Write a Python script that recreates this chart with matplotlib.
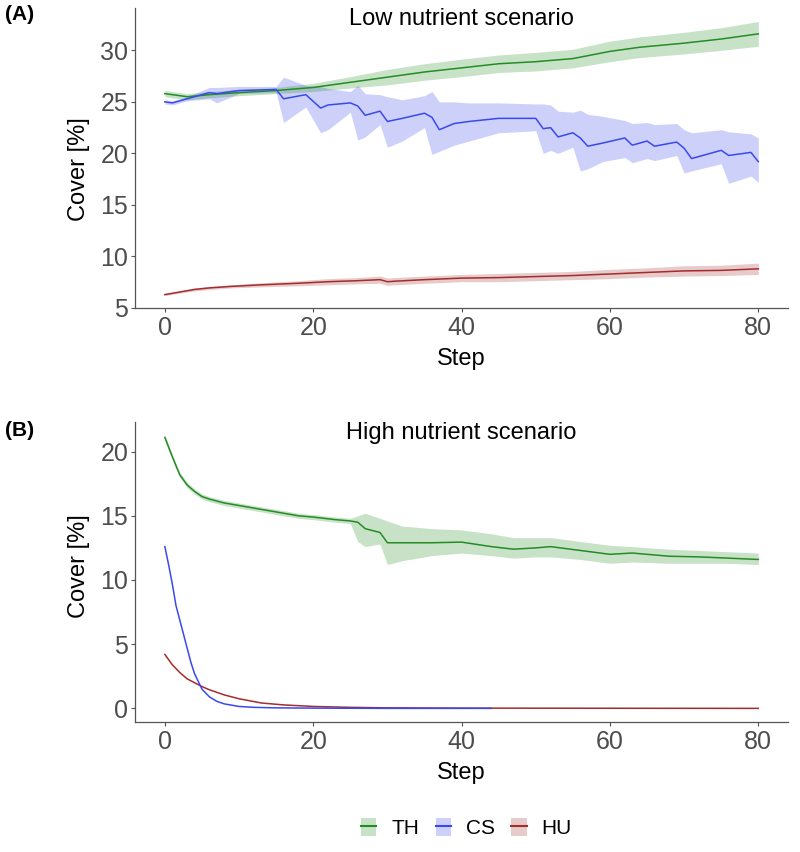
import matplotlib.pyplot as plt
from matplotlib.patches import Patch
from matplotlib.lines import Line2D

plt.rcParams['font.family'] = ['Liberation Sans', 'DejaVu Sans']

# ---- panel A: low nutrient scenario ----
th_a_step = [0, 3, 6, 10, 15, 20, 25, 30, 35, 40, 45, 50, 55, 60, 64, 70, 75, 80]
th_a_mean = [25.8, 25.5, 25.7, 25.9, 26.1, 26.4, 26.9, 27.4, 27.9, 28.3, 28.7, 28.9, 29.2, 29.9, 30.3, 30.7, 31.1, 31.6]
th_a_sd = [0.3, 0.3, 0.3, 0.3, 0.3, 0.4, 0.55, 0.75, 0.8, 0.85, 0.85, 0.9, 0.9, 1.0, 1.0, 1.05, 1.1, 1.2]

cs_a_step = [0, 1, 3, 6, 7, 10, 15, 16, 19, 21, 22, 25, 26, 27, 29, 30, 32, 35, 36, 37,
             39, 41, 45, 50, 51, 52, 53, 55, 56, 57, 59, 62, 63, 65, 66, 69, 70, 71, 75, 76, 79, 80]
cs_a_mean = [25.0, 24.9, 25.3, 25.9, 25.8, 26.1, 26.2, 25.3, 25.7, 24.4, 24.7, 24.9, 24.6, 23.7, 24.1, 23.1, 23.4, 23.9, 23.5, 22.3,
             22.9, 23.1, 23.4, 23.4, 22.4, 22.5, 21.6, 22.0, 21.5, 20.7, 21.0, 21.5, 20.8, 21.2, 20.7, 21.1, 20.5, 19.5, 20.3, 19.8, 20.1, 19.2]
cs_a_lo = [24.8, 24.7, 25.1, 25.3, 24.9, 25.8, 25.9, 23.0, 24.5, 22.0, 22.3, 24.0, 21.3, 21.6, 22.8, 20.6, 21.2, 22.5, 19.9, 20.2,
           20.8, 21.2, 22.0, 22.2, 20.0, 20.3, 20.0, 20.6, 18.3, 18.5, 19.2, 19.6, 19.1, 19.5, 19.3, 19.8, 18.1, 18.3, 19.0, 17.1, 17.8, 17.2]
cs_a_hi = [25.2, 25.1, 25.5, 26.4, 26.4, 26.5, 26.5, 27.4, 26.6, 26.5, 26.3, 26.0, 26.6, 25.8, 25.7, 25.5, 25.2, 25.6, 26.0, 25.0,
           25.0, 24.9, 24.9, 24.8, 24.8, 24.7, 24.1, 24.0, 24.2, 23.8, 23.6, 23.2, 22.9, 23.0, 22.8, 22.9, 22.3, 22.0, 22.3, 22.1, 21.9, 21.5]

hu_a_step = [0, 2, 4, 6, 9, 13, 18, 22, 26, 29, 30, 31, 35, 40, 45, 50, 55, 60, 65, 70, 75, 80]
hu_a_mean = [6.3, 6.55, 6.8, 6.95, 7.1, 7.25, 7.4, 7.55, 7.65, 7.75, 7.55, 7.6, 7.75, 7.9, 7.95, 8.05, 8.15, 8.3, 8.45, 8.6, 8.65, 8.8]
hu_a_sd = [0.1, 0.1, 0.15, 0.15, 0.15, 0.2, 0.25, 0.3, 0.3, 0.35, 0.35, 0.35, 0.35, 0.35, 0.4, 0.4, 0.4, 0.45, 0.45, 0.5, 0.5, 0.55]

# ---- panel B: high nutrient scenario ----
th_b_step = [0, 1, 2, 3, 4, 5, 6, 8, 10, 12, 14, 16, 18, 20, 23, 25, 26, 27, 29, 30,
             32, 36, 40, 44, 47, 50, 52, 56, 60, 63, 68, 72, 76, 80]
th_b_mean = [21.1, 19.6, 18.2, 17.4, 16.9, 16.5, 16.3, 16.0, 15.8, 15.6, 15.4, 15.2, 15.0, 14.9, 14.7, 14.6, 14.5, 14.0, 13.7, 12.9,
             12.9, 12.9, 12.95, 12.6, 12.4, 12.5, 12.6, 12.3, 12.0, 12.1, 11.85, 11.8, 11.7, 11.6]
th_b_lo = [20.9, 19.4, 18.0, 17.2, 16.7, 16.3, 16.1, 15.8, 15.6, 15.4, 15.2, 15.0, 14.8, 14.7, 14.5, 14.4, 13.0, 12.6, 12.8, 11.2,
           11.5, 11.9, 12.1, 11.9, 11.7, 11.8, 11.8, 11.6, 11.3, 11.4, 11.3, 11.3, 11.3, 11.2]
th_b_hi = [21.3, 19.8, 18.4, 17.6, 17.1, 16.7, 16.5, 16.2, 16.0, 15.8, 15.6, 15.4, 15.2, 15.1, 14.9, 14.8, 15.0, 15.2, 14.8, 14.6,
           14.2, 14.0, 13.9, 13.6, 13.3, 13.3, 13.3, 13.0, 12.7, 12.6, 12.4, 12.3, 12.2, 12.1]

cs_b_step = [0, 0.5, 1, 1.5, 2, 2.5, 3, 3.5, 4, 5, 6, 7, 8, 10, 12, 15, 20, 30, 44]
cs_b_mean = [12.6, 11.2, 9.7, 8.0, 6.9, 5.8, 4.7, 3.6, 2.7, 1.5, 0.9, 0.55, 0.35, 0.15, 0.08, 0.04, 0.02, 0.0, 0.0]

hu_b_step = [0, 1, 2, 3, 4, 5, 6, 8, 10, 13, 16, 20, 25, 30, 40, 80]
hu_b_mean = [4.2, 3.4, 2.8, 2.3, 2.0, 1.7, 1.45, 1.05, 0.75, 0.42, 0.27, 0.15, 0.08, 0.04, 0.02, 0.0]

groups = ['TH', 'CS', 'HU']
colors = {'TH': '#248c24', 'CS': '#3a48ee', 'HU': '#a32c2c'}
axis_grey = '#555555'


def style(ax, ylim, yticks, title, ylab_y):
    ax.set_xlim(-4, 84)
    ax.set_ylim(*ylim)
    ax.set_xticks([0, 20, 40, 60, 80])
    ax.set_yticks(yticks)
    for s in ['top', 'right']:
        ax.spines[s].set_visible(False)
    for s in ['left', 'bottom']:
        ax.spines[s].set_color(axis_grey)
        ax.spines[s].set_linewidth(0.9)
    ax.tick_params(colors=axis_grey, labelcolor='#4d4d4d', labelsize=18, length=3, width=0.8, pad=2)
    ax.tick_params(axis='x', pad=3)
    ax.set_xlabel('Step', fontsize=17)
    ax.set_ylabel('Cover [%]', fontsize=17)
    ax.xaxis.set_label_coords(0.5, -0.135)
    ax.yaxis.set_label_coords(-0.069, ylab_y)
    ax.text(0.5, 0.965, title, transform=ax.transAxes, ha='center', va='center', fontsize=17)


fig = plt.figure(figsize=(8, 8.52), dpi=100)
ax_a = fig.add_axes([0.169, 0.6385, 0.816, 0.352])
ax_b = fig.add_axes([0.169, 0.1526, 0.816, 0.352])

# panel A
ax_a.fill_between(cs_a_step, cs_a_lo, cs_a_hi, color=colors['CS'], alpha=0.25, lw=0)
ax_a.fill_between(th_a_step, [m - s for m, s in zip(th_a_mean, th_a_sd)],
                  [m + s for m, s in zip(th_a_mean, th_a_sd)], color=colors['TH'], alpha=0.25, lw=0)
ax_a.fill_between(hu_a_step, [m - s for m, s in zip(hu_a_mean, hu_a_sd)],
                  [m + s for m, s in zip(hu_a_mean, hu_a_sd)], color=colors['HU'], alpha=0.25, lw=0)
ax_a.plot(th_a_step, th_a_mean, color=colors['TH'], lw=1.1)
ax_a.plot(cs_a_step, cs_a_mean, color=colors['CS'], lw=1.1)
ax_a.plot(hu_a_step, hu_a_mean, color=colors['HU'], lw=1.1)
style(ax_a, (5, 34.1), [5, 10, 15, 20, 25, 30], 'Low nutrient scenario', 0.462)

# panel B
ax_b.fill_between(th_b_step, th_b_lo, th_b_hi, color=colors['TH'], alpha=0.25, lw=0)
ax_b.plot(th_b_step, th_b_mean, color=colors['TH'], lw=1.1)
ax_b.plot(hu_b_step, hu_b_mean, color=colors['HU'], lw=1.1)
ax_b.plot(cs_b_step, cs_b_mean, color=colors['CS'], lw=1.1)
style(ax_b, (-1.06, 22.3), [0, 5, 10, 15, 20], 'High nutrient scenario', 0.52)

fig.text(0.006, 1 - 15 / 852, '(A)', fontsize=15, fontweight='bold', va='center')
fig.text(0.006, 1 - 431 / 852, '(B)', fontsize=15, fontweight='bold', va='center')

handles = [(Patch(facecolor=colors[g], alpha=0.25, lw=0), Line2D([], [], color=colors[g], lw=1.5)) for g in groups]
fig.legend(handles, groups, loc='center', bbox_to_anchor=(0.583, 1 - 828 / 852), ncol=3, frameon=False,
           fontsize=15, handlelength=0.75, handleheight=1.0, handletextpad=0.7, columnspacing=0.8)

fig.savefig('out.png', dpi=100)
